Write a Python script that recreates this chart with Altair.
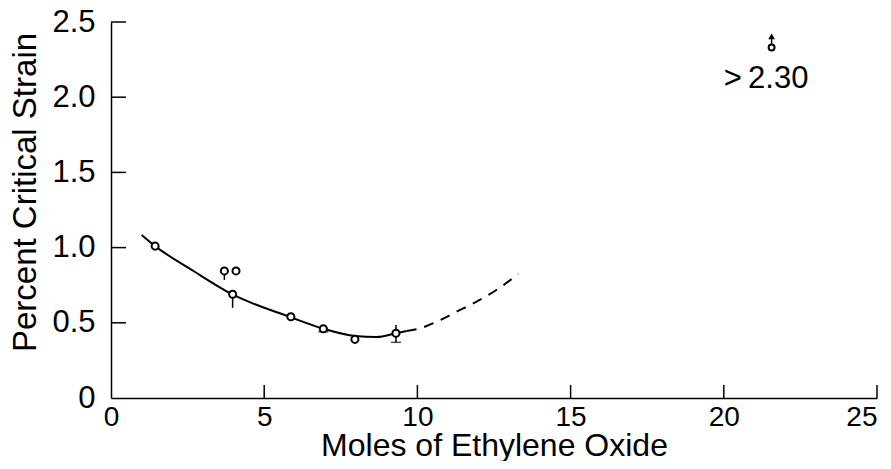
import altair as alt
import pandas as pd

# ---- data ----
pts_x = [1.44, 3.70, 3.97, 4.08, 5.87, 6.93, 7.96, 9.30]
pts_y = [1.01, 0.845, 0.69, 0.845, 0.54, 0.46, 0.39, 0.43]

err_x = [3.70, 3.97, 5.87, 6.93, 7.96, 9.30]
err_lo = [0.785, 0.60, 0.52, 0.44, 0.37, 0.37]
err_hi = [0.845, 0.69, 0.56, 0.47, 0.39, 0.485]

cap_x = [6.93, 9.30]
cap_y = [0.44, 0.37]

solid_x = [1.00, 1.44, 2.68, 3.95, 5.87, 6.93, 7.97, 8.67, 9.30, 9.65]
solid_y = [1.084, 1.01, 0.846, 0.69, 0.537, 0.461, 0.412, 0.405, 0.43, 0.445]

dash_x = [9.65, 9.98, 10.63, 11.28, 11.93, 12.59, 13.29]
dash_y = [0.445, 0.457, 0.507, 0.574, 0.64, 0.72, 0.824]

extra_x = [21.56]
extra_y = [2.33]
arrow_y = [2.405]
note_text = [">\u20092.30"]
note_x = [20.0]
note_y = [2.06]

x_ticks = [0, 5, 10, 15, 20, 25]
y_ticks = [0, 0.5, 1.0, 1.5, 2.0, 2.5]
y_inner_ticks = [0.5, 1.0, 1.5, 2.0, 2.5]
x_inner_ticks = [5, 10, 15, 20, 25]

FONT = "Liberation Sans"

xscale = alt.Scale(domain=[0, 25], nice=False, zero=False)
yscale = alt.Scale(domain=[0, 2.5], nice=False, zero=False)

xaxis = alt.Axis(values=x_ticks, title="Moles of Ethylene Oxide", labelFontSize=28,
                 titleFontSize=32, labelPadding=5, titleBaseline="alphabetic", titleY=57,
                 labelFlush=False, format="d",
                 labelAlign=alt.ExprRef(expr="datum.value == 25 ? 'right' : 'center'"))
yaxis = alt.Axis(values=y_ticks, title="Percent Critical Strain", labelFontSize=31,
                 titleFontSize=33, labelPadding=16, titleBaseline="middle",
                 titleX=-86, titleY=170,
                 labelExpr="datum.value == 0 ? '0' : format(datum.value, '.1f')")


def X(field="x"):
    return alt.X(f"{field}:Q", scale=xscale, axis=xaxis)


def Y(field="y"):
    return alt.Y(f"{field}:Q", scale=yscale, axis=yaxis)


solid = alt.Chart(pd.DataFrame({"x": solid_x, "y": solid_y})).mark_line(
    color="black", strokeWidth=2, interpolate="monotone").encode(x=X(), y=Y())

dashed = alt.Chart(pd.DataFrame({"x": dash_x, "y": dash_y})).mark_line(
    color="black", strokeWidth=2, strokeDash=[10, 8], interpolate="monotone").encode(x=X(), y=Y())

errs = alt.Chart(pd.DataFrame({"x": err_x, "lo": err_lo, "hi": err_hi})).mark_rule(
    color="black", strokeWidth=1.5).encode(x=X(), y=Y("lo"), y2="hi:Q")

caps = alt.Chart(pd.DataFrame({"x": cap_x, "y": cap_y})).mark_tick(
    color="black", orient="horizontal", size=10, thickness=1.5).encode(x=X(), y=Y())

points = alt.Chart(pd.DataFrame({"x": pts_x, "y": pts_y})).mark_point(
    shape="circle", size=50, filled=True, fill="white", stroke="black", strokeWidth=2,
    opacity=1).encode(x=X(), y=Y())

extra_pt = alt.Chart(pd.DataFrame({"x": extra_x, "y": extra_y})).mark_point(
    shape="circle", size=35, filled=True, fill="white", stroke="black", strokeWidth=2,
    opacity=1).encode(x=X(), y=Y())

arrow = alt.Chart(pd.DataFrame({"x": extra_x, "y": arrow_y})).mark_point(
    shape="triangle-up", size=45, filled=True, color="black", opacity=1).encode(x=X(), y=Y())

arrow_stem = alt.Chart(pd.DataFrame({"x": extra_x, "lo": extra_y, "hi": arrow_y})).mark_rule(
    color="black", strokeWidth=1.5).encode(x=X(), y=Y("lo"), y2="hi:Q")

note = alt.Chart(pd.DataFrame({"x": note_x, "y": note_y, "t": note_text})).mark_text(
    align="left", baseline="alphabetic", fontSize=31, font=FONT, color="black").encode(
    x=X(), y=Y(), text="t:N")

ytick_marks = alt.Chart(pd.DataFrame({"v": y_inner_ticks})).mark_rule(
    color="black", strokeWidth=1.5).encode(y=Y("v"), x=alt.value(0), x2=alt.value(15))

xtick_marks = alt.Chart(pd.DataFrame({"v": x_inner_ticks})).mark_rule(
    color="black", strokeWidth=1.5).encode(x=X("v"), y=alt.value(376), y2=alt.value(363))

chart = alt.layer(
    ytick_marks, xtick_marks, solid, dashed, errs, caps, points,
    arrow_stem, arrow, extra_pt, note
).properties(
    width=766, height=376,
    autosize=alt.AutoSizeParams(type="none"),
    padding={"left": 103, "top": 14, "right": 6, "bottom": 63},
    background="white",
).configure_view(stroke=None).configure_axis(
    grid=False, ticks=False, domainColor="black", domainWidth=1.5,
    labelColor="black", titleColor="black", labelFont=FONT, titleFont=FONT,
    titleFontWeight="normal",
)

chart.save("out.html", embed_options={"renderer": "svg", "actions": False})
